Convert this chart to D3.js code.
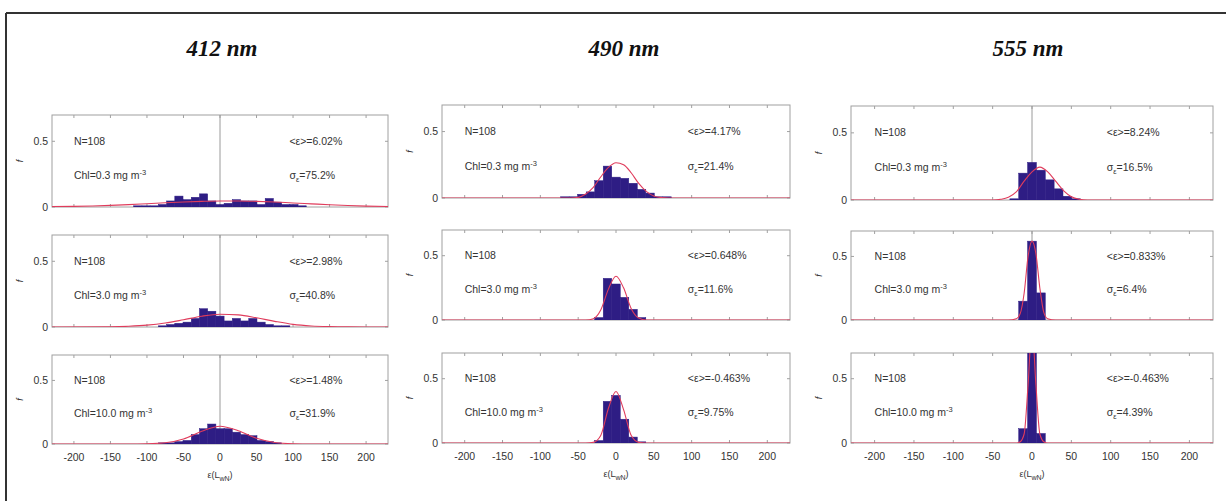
<!DOCTYPE html>
<html><head><meta charset="utf-8">
<script src="https://cdn.jsdelivr.net/npm/d3@7"></script>
<style>body{margin:0;background:#fff}svg{display:block}</style>
</head><body><svg id="c" width="1226" height="501"></svg>
<script>
// ---------- data ----------
const wavelengths = ["412 nm", "490 nm", "555 nm"];
const chlLabels = ["0.3", "3.0", "10.0"];
const sampleCount = 108;
const meanErr = [["6.02%", "2.98%", "1.48%"], ["4.17%", "0.648%", "-0.463%"], ["8.24%", "0.833%", "-0.463%"]];
const sigmaErr = [["75.2%", "40.8%", "31.9%"], ["21.4%", "11.6%", "9.75%"], ["16.5%", "6.4%", "4.39%"]];
const xTicks = [-200, -150, -100, -50, 0, 50, 100, 150, 200];
const yTicks = [0, 0.5];
const yTickLabels = ["0", "0.5"];
const binCenters = [-112.5, -101.25, -90, -78.75, -67.5, -56.25, -45, -33.75, -22.5, -11.25, 0,
  11.25, 22.5, 33.75, 45, 56.25, 67.5, 78.75, 90, 101.25, 112.5];
const binWidth = 11.25;

const freq412 = [
  [0.009,0.009,0.009,0.019,0.046,0.083,0.056,0.074,0.1,0.046,0.019,0.028,0.056,0.046,0.046,0.019,0.065,0.037,0.019,0.019,0.009],
  [0,0,0,0.009,0.019,0.028,0.037,0.065,0.139,0.12,0.083,0.046,0.065,0.046,0.065,0.037,0.019,0.009,0.009,0,0],
  [0,0,0,0.009,0.009,0.019,0.028,0.074,0.12,0.157,0.12,0.12,0.093,0.074,0.065,0.028,0.019,0.009,0,0,0]
];
const freq490 = [
  [0,0,0,0,0.009,0.009,0.028,0.046,0.13,0.24,0.157,0.148,0.111,0.065,0.037,0.009,0.009,0,0,0,0],
  [0,0,0,0,0,0,0,0,0.019,0.324,0.28,0.176,0.083,0.019,0,0,0,0,0,0,0],
  [0,0,0,0,0,0,0,0,0.019,0.324,0.37,0.185,0.046,0.009,0,0,0,0,0,0,0]
];
const freq555 = [
  [0,0,0,0,0,0,0,0,0.009,0.2,0.28,0.222,0.15,0.083,0.028,0.009,0,0,0,0,0],
  [0,0,0,0,0,0,0,0,0,0.148,0.62,0.213,0,0,0,0,0,0,0,0,0],
  [0,0,0,0,0,0,0,0,0,0.111,0.815,0.074,0,0,0,0,0,0,0,0,0]
];
// fitted curves, points: [x, f]
const fit412 = [
  [[-230,0.003],[-200,0.005],[-175,0.008],[-150,0.012],[-125,0.018],[-100,0.025],[-75,0.032],[-50,0.038],[-25,0.043],[0,0.046],[25,0.046],[50,0.043],[75,0.038],[100,0.031],[125,0.024],[150,0.017],[175,0.011],[200,0.007],[230,0.004]],
  [[-230,0],[-150,0.002],[-125,0.006],[-100,0.014],[-75,0.03],[-50,0.055],[-25,0.082],[0,0.097],[25,0.092],[50,0.07],[75,0.043],[100,0.02],[125,0.008],[150,0.003],[175,0.001],[230,0]],
  [[-230,0],[-125,0],[-100,0.002],[-75,0.01],[-50,0.04],[-25,0.1],[0,0.14],[25,0.105],[50,0.045],[75,0.012],[100,0.002],[125,0],[230,0]]
];
const fit490 = [
  [[-230,0],[-60,0],[-50,0.005],[-40,0.03],[-30,0.08],[-20,0.16],[-10,0.23],[0,0.265],[10,0.25],[20,0.19],[30,0.11],[40,0.05],[50,0.015],[60,0.003],[70,0],[230,0]],
  [[-230,0],[-40,0],[-30,0.01],[-20,0.08],[-10,0.24],[0,0.34],[10,0.25],[20,0.09],[30,0.015],[40,0],[230,0]],
  [[-230,0],[-40,0],[-30,0.005],[-20,0.06],[-10,0.27],[0,0.4],[10,0.26],[20,0.06],[30,0.005],[40,0],[230,0]]
];
const fit555 = [
  [[-230,0],[-50,0],[-40,0.005],[-30,0.02],[-20,0.06],[-10,0.14],[0,0.21],[10,0.245],[20,0.21],[30,0.14],[40,0.07],[50,0.025],[60,0.006],[70,0],[230,0]],
  [[-230,0],[-30,0],[-20,0.01],[-15,0.05],[-10,0.21],[-5,0.5],[0,0.62],[5,0.52],[10,0.25],[15,0.06],[20,0.01],[30,0],[230,0]],
  [[-230,0],[-20,0],[-15,0.01],[-10,0.07],[-5,0.45],[0,0.9],[5,0.45],[10,0.07],[15,0.01],[20,0],[230,0]]
];
const freqs = [freq412, freq490, freq555];
const fits = [fit412, fit490, fit555];

// ---------- layout ----------
const colBox = [[52, 388], [442, 790], [851, 1213]];
const rowBox = [
  [[115, 207], [235, 327], [355, 444]],
  [[105, 198], [230, 320], [353, 443]],
  [[106, 200], [231, 320], [353, 443]]
];
const zeroLine = [true, false, true];
const titleX = [222, 624, 1028];
const xDomain = [-230, 230];
const yDomain = [0, 0.7];
const barColor = "#2e1d84";
const fitColor = "#e03c5c";
const boxColor = "#a0a0a0";
const textFont = "'Liberation Sans', Arial, sans-serif";
const fs = 10.5;

const svg = d3.select("#c");

// outer frame
svg.append("line").attr("x1", 6).attr("x2", 1226).attr("y1", 13).attr("y2", 13)
  .attr("stroke", "#333").attr("stroke-width", 2);
svg.append("line").attr("x1", 6).attr("x2", 6).attr("y1", 13).attr("y2", 501)
  .attr("stroke", "#333").attr("stroke-width", 2);

wavelengths.forEach((w, c) => {
  svg.append("text").attr("x", titleX[c]).attr("y", 56).attr("text-anchor", "middle")
    .attr("font-family", "'Liberation Serif', 'Times New Roman', serif")
    .attr("font-weight", "bold").attr("font-style", "italic").attr("font-size", 23)
    .attr("fill", "#111").text(w);

  const x = d3.scaleLinear().domain(xDomain).range(colBox[c]);
  chlLabels.forEach((chl, r) => {
    const [top, bottom] = rowBox[c][r];
    const y = d3.scaleLinear().domain(yDomain).range([bottom, top]);
    const g = svg.append("g");
    const clipId = `clip${c}${r}`;
    g.append("clipPath").attr("id", clipId).append("rect")
      .attr("x", x.range()[0]).attr("y", top)
      .attr("width", x.range()[1] - x.range()[0]).attr("height", bottom - top);

    // box
    g.append("rect").attr("x", x.range()[0]).attr("y", top)
      .attr("width", x.range()[1] - x.range()[0]).attr("height", bottom - top)
      .attr("fill", "none").attr("stroke", boxColor).attr("stroke-width", 1);

    // ticks (inward)
    const tk = 3;
    xTicks.forEach(t => {
      g.append("line").attr("x1", x(t)).attr("x2", x(t)).attr("y1", bottom).attr("y2", bottom - tk).attr("stroke", boxColor);
      g.append("line").attr("x1", x(t)).attr("x2", x(t)).attr("y1", top).attr("y2", top + tk).attr("stroke", boxColor);
    });
    yTicks.forEach(t => {
      g.append("line").attr("x1", x.range()[0]).attr("x2", x.range()[0] + tk).attr("y1", y(t)).attr("y2", y(t)).attr("stroke", boxColor);
      g.append("line").attr("x1", x.range()[1]).attr("x2", x.range()[1] - tk).attr("y1", y(t)).attr("y2", y(t)).attr("stroke", boxColor);
    });
    if (zeroLine[c]) {
      g.append("line").attr("x1", x(0)).attr("x2", x(0)).attr("y1", top).attr("y2", bottom)
        .attr("stroke", "#9a9a9a").attr("stroke-width", 1);
    }

    // y tick labels
    yTicks.forEach((t, i) => {
      g.append("text").attr("x", x.range()[0] - 4).attr("y", y(t) + 3.5)
        .attr("text-anchor", "end").attr("font-family", textFont).attr("font-size", fs)
        .attr("fill", "#333").text(yTickLabels[i]);
    });
    // y label
    g.append("text").attr("transform", `translate(${x.range()[0] - 29},${(top + bottom) / 2}) rotate(-90)`)
      .attr("text-anchor", "middle").attr("font-family", textFont).attr("font-style", "italic")
      .attr("font-size", 9).attr("fill", "#333").text("f");

    // bars
    const fr = freqs[c][r];
    g.append("g").attr("clip-path", `url(#${clipId})`).selectAll("rect")
      .data(binCenters.map((b, i) => ({ b, f: fr[i] })).filter(d => d.f > 0))
      .join("rect")
      .attr("x", d => x(d.b - binWidth / 2)).attr("width", d => x(d.b + binWidth / 2) - x(d.b - binWidth / 2))
      .attr("y", d => y(d.f)).attr("height", d => y(0) - y(d.f))
      .attr("fill", barColor).attr("stroke", barColor).attr("stroke-width", 0.5);

    // fit curve
    const line = d3.line().x(d => x(d[0])).y(d => y(d[1])).curve(d3.curveMonotoneX);
    g.append("path").attr("clip-path", `url(#${clipId})`).attr("d", line(fits[c][r]))
      .attr("fill", "none").attr("stroke", fitColor).attr("stroke-width", 1.1);

    // annotations
    g.append("text").attr("x", x(-200)).attr("y", y(0.5) + 3.5)
      .attr("font-family", textFont).attr("font-size", fs).attr("fill", "#333").text(`N=${sampleCount}`);
    const t2 = g.append("text").attr("x", x(-200)).attr("y", y(0.24) + 3.5)
      .attr("font-family", textFont).attr("font-size", fs).attr("fill", "#333");
    t2.append("tspan").text(`Chl=${chl} mg m`);
    t2.append("tspan").attr("dy", -4).attr("font-size", 7.5).text("-3");
    g.append("text").attr("x", x(95)).attr("y", y(0.5) + 3.5)
      .attr("font-family", textFont).attr("font-size", fs).attr("fill", "#333")
      .text(`<ε>=${meanErr[c][r]}`);
    const t4 = g.append("text").attr("x", x(95)).attr("y", y(0.24) + 3.5)
      .attr("font-family", textFont).attr("font-size", fs).attr("fill", "#333");
    t4.append("tspan").text("σ");
    t4.append("tspan").attr("dy", 3).attr("font-size", 7.5).text("ε");
    t4.append("tspan").attr("dy", -3).text(`=${sigmaErr[c][r]}`);

    // x tick labels, bottom row only
    if (r === chlLabels.length - 1) {
      xTicks.forEach(t => {
        g.append("text").attr("x", x(t)).attr("y", bottom + 17).attr("text-anchor", "middle")
          .attr("font-family", textFont).attr("font-size", fs).attr("fill", "#333").text(t);
      });
      const xl = g.append("text").attr("x", x(0)).attr("y", bottom + 34).attr("text-anchor", "middle")
        .attr("font-family", textFont).attr("font-size", 9).attr("fill", "#333");
      xl.append("tspan").text("ε(L");
      xl.append("tspan").attr("dy", 3).attr("font-size", 7).text("wN");
      xl.append("tspan").attr("dy", -3).text(")");
    }
  });
});
</script></body></html>
